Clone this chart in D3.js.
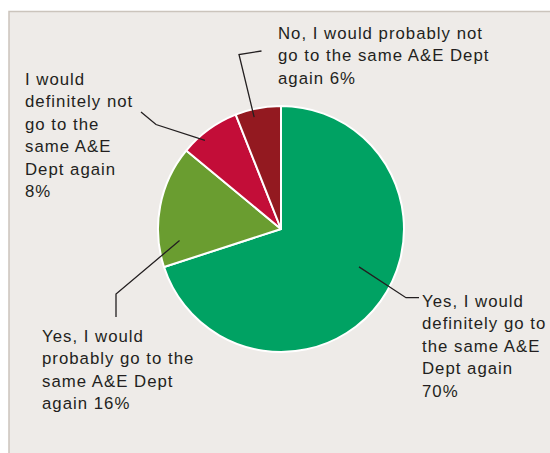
<!DOCTYPE html>
<html>
<head>
<meta charset="utf-8">
<script src="https://cdn.jsdelivr.net/npm/d3@7"></script>
<style>
  html, body { margin: 0; padding: 0; background: #ffffff; }
  svg { display: block; }
  text { font-family: "Liberation Sans", Arial, Helvetica, sans-serif; font-size: 16.8px; fill: #231f20; letter-spacing: 1px; }
</style>
</head>
<body>
<svg id="chart" width="550" height="453"></svg>
<script>
// Responses, in drawing order clockwise from 12 o'clock
const categories = [
  "Yes, I would definitely go to the same A&E Dept again",
  "Yes, I would probably go to the same A&E Dept again",
  "I would definitely not go to the same A&E Dept again",
  "No, I would probably not go to the same A&E Dept again"
];
const values = [70, 16, 8, 6];
const colors = ["#00a263", "#6a9d30", "#c30d38", "#931920"];

// Wrapped label lines for each response
const labelLines = [
  ["Yes, I would", "definitely go to", "the same A&E", "Dept again", "70%"],
  ["Yes, I would", "probably go to the", "same A&E Dept", "again 16%"],
  ["I would", "definitely not", "go to the", "same A&E", "Dept again", "8%"],
  ["No, I would probably not", "go to the same A&E Dept", "again 6%"]
];

const svg = d3.select("#chart");
const W = 550, H = 453;

// Panel background
svg.append("rect")
  .attr("x", 9).attr("y", 12)
  .attr("width", W - 9).attr("height", H - 12)
  .attr("fill", "#eeebe8");
svg.append("path")
  .attr("d", `M9,${H} L9,11.5 L${W},11.5`)
  .attr("fill", "none")
  .attr("stroke", "#cbc4bc")
  .attr("stroke-width", 1.5);

const cx = 281, cy = 229, R = 123;
const g = svg.append("g").attr("transform", `translate(${cx},${cy})`);

const pie = d3.pie().sort(null).value(d => d);
const arcs = pie(values);
const arc = d3.arc().innerRadius(0).outerRadius(R);

g.selectAll("path.slice")
  .data(arcs)
  .join("path")
  .attr("class", "slice")
  .attr("d", arc)
  .attr("fill", (d, i) => colors[i])
  .attr("stroke", "#ffffff")
  .attr("stroke-width", 2)
  .attr("stroke-linejoin", "round");

// Leader lines: anchor inside each slice (fraction along the slice, fraction of radius),
// then elbow and end points out to the label
const leaderLayout = [
  { t: 0.46, r: 0.705, pts: [[406, 297.7], [419, 297.7]] },
  { t: 0.2, r: 0.83, pts: [[116, 294], [116, 317]] },
  { t: 0.34, r: 0.95, pts: [[156, 124.5], [141, 112]] },
  { t: 0.375, r: 0.935, pts: [[239, 54.5], [261.5, 51]] }
];

const line = d3.line();
arcs.forEach((a, i) => {
  const L = leaderLayout[i];
  const ang = a.startAngle + (a.endAngle - a.startAngle) * L.t;
  const rr = R * L.r;
  const p0 = [cx + rr * Math.sin(ang), cy - rr * Math.cos(ang)];
  svg.append("path")
    .attr("d", line([p0, ...L.pts]))
    .attr("fill", "none")
    .attr("stroke", "#231f20")
    .attr("stroke-width", 1.3);
});

// Labels
const labelPos = [
  { x: 422, y: 307 },
  { x: 42, y: 342 },
  { x: 25, y: 85 },
  { x: 278, y: 39 }
];
const lineH = 22.4;
labelLines.forEach((lines, i) => {
  const t = svg.append("text")
    .attr("x", labelPos[i].x)
    .attr("y", labelPos[i].y);
  lines.forEach((s, k) => {
    t.append("tspan")
      .attr("x", labelPos[i].x)
      .attr("y", labelPos[i].y + k * lineH)
      .text(s);
  });
});
</script>
</body>
</html>
